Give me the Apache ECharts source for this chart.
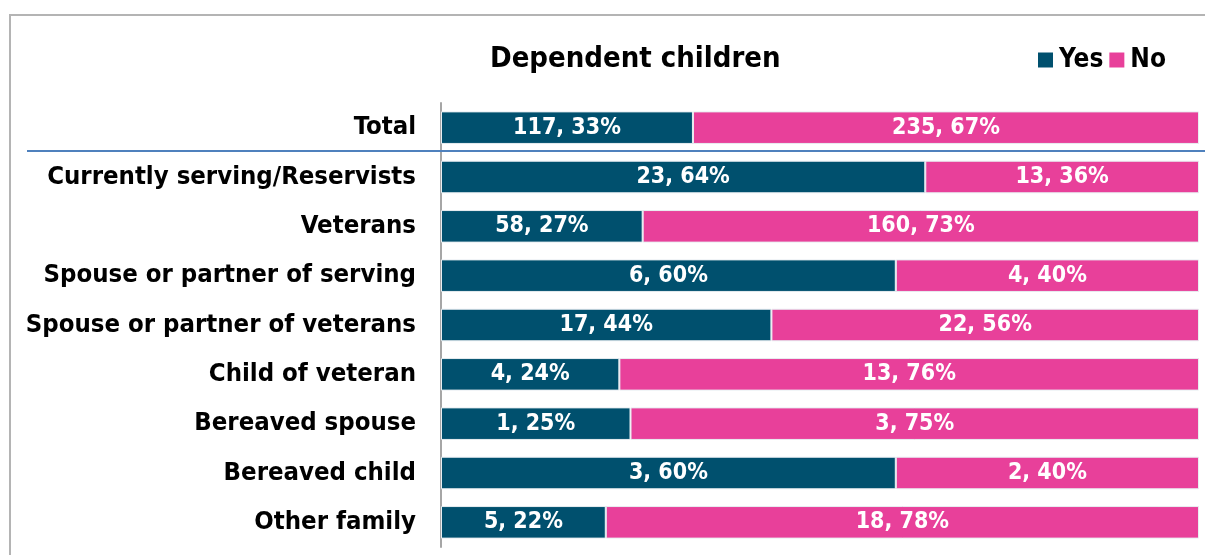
<!DOCTYPE html>
<html lang="en">
<head>
    <meta charset="UTF-8">
    <title>Dependent children</title>
    <script src="https://cdn.jsdelivr.net/npm/echarts@6/dist/echarts.min.js"></script>
    <style>
        html, body { margin: 0; padding: 0; background: #fff; }
        #chart { width: 1205px; height: 555px; }
    </style>
</head>
<body>
<div id="chart"></div>
<script>
    var categories = ['Total', 'Currently serving/Reservists', 'Veterans', 'Spouse or partner of serving',
        'Spouse or partner of veterans', 'Child of veteran', 'Bereaved spouse', 'Bereaved child', 'Other family'];
    var yesCounts = [117, 23, 58, 6, 17, 4, 1, 3, 5];
    var noCounts = [235, 13, 160, 4, 22, 13, 3, 2, 18];

    var FONT = '"DejaVu Sans Condensed", "DejaVu Sans", sans-serif';

    // share of each row, the bars are drawn as 100% stacks
    function pct(a, b) {
        return a.map(function (v, i) { return v / (v + b[i]) * 100; });
    }
    function series(name, counts, shares, color) {
        return {
            name: name,
            type: 'bar',
            stack: 'all',
            barCategoryGap: '34%',
            itemStyle: { color: color, borderColor: '#e8eef2', borderWidth: 1 },
            label: {
                show: true,
                position: 'inside',
                color: '#fff',
                fontFamily: FONT,
                fontWeight: 'bold',
                fontSize: 23,
                formatter: function (p) {
                    return counts[p.dataIndex] + ', ' + Math.round(shares[p.dataIndex]) + '%';
                }
            },
            data: shares
        };
    }

    var chart = echarts.init(document.getElementById('chart'));
    chart.setOption({
        animation: false,
        title: {
            text: 'Dependent children',
            left: 485,
            top: 40,
            textStyle: { fontFamily: FONT, fontWeight: 'bold', fontSize: 29, color: '#000' }
        },
        legend: {
            right: 34,
            top: 42,
            itemWidth: 15,
            itemHeight: 15,
            itemGap: 6,
            icon: 'rect',
            itemStyle: { borderWidth: 0 },
            textStyle: { fontFamily: FONT, fontWeight: 'bold', fontSize: 26, color: '#000', padding: [0, 0, 0, 1] },
            data: ['Yes', 'No']
        },
        grid: { left: 441, right: 6, top: 103, bottom: 8 },
        xAxis: { type: 'value', min: 0, max: 100, show: false },
        yAxis: {
            type: 'category',
            inverse: true,
            data: categories,
            axisLine: { show: true, lineStyle: { color: '#a6a6a6', width: 2 } },
            axisTick: { show: false },
            axisLabel: { color: '#000', fontFamily: FONT, fontWeight: 'bold', fontSize: 25.5, margin: 25 }
        },
        series: [
            series('Yes', yesCounts, pct(yesCounts, noCounts), '#00506E'),
            series('No', noCounts, pct(noCounts, yesCounts), '#E8409A')
        ],
        graphic: [
            { type: 'rect', shape: { x: 10, y: 15, width: 1300, height: 700 },
              style: { fill: 'none', stroke: '#b4b4b4', lineWidth: 2 }, z: -1 },
            { type: 'line', shape: { x1: 27, y1: 151, x2: 1205, y2: 151 },
              style: { stroke: '#4f81bd', lineWidth: 2 }, z: 10 }
        ]
    });
</script>
</body>
</html>
